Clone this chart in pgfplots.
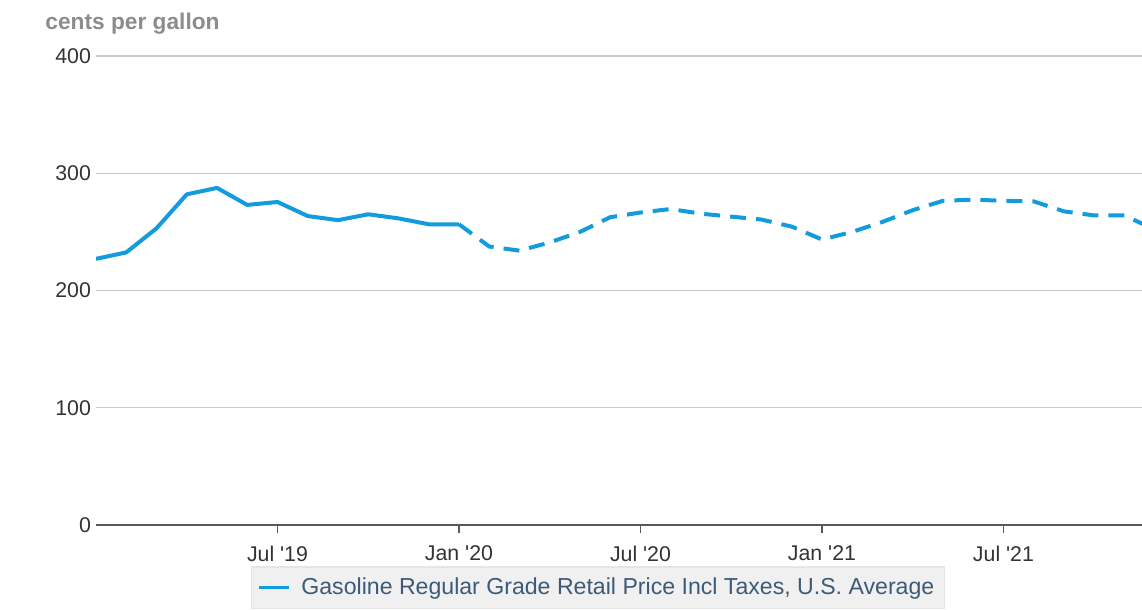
\documentclass[border=0pt]{standalone}
\usepackage{fontspec}
\setmainfont{Liberation Sans}
\usepackage{pgfplots}
\pgfplotsset{compat=1.18}

\definecolor{eiablue}{HTML}{129CDD}
\definecolor{gridgrey}{HTML}{C8C8C8}
\definecolor{ticktext}{HTML}{333333}
\definecolor{unitgrey}{HTML}{8C8C8C}
\definecolor{legtext}{HTML}{3D5A78}

% months counted from Jan 2019 = 0
\pgfplotstableread{
m v
0 227
1 232.5
2 253
3 282
4 287.5
5 273
6 275.5
7 263.5
8 260
9 265
10 261.5
11 256.5
12 256.5
}\history

\pgfplotstableread{
m v
12 256.5
13 237.5
14 234
15 241
16 250
17 262.5
18 266.5
19 269.5
20 265.5
21 263
22 260.5
23 254.5
24 243.5
25 250
26 258.5
27 268.5
28 276.5
29 277.5
30 276.5
31 276
32 267.5
33 264
34 264
35 252
}\forecast

\begin{document}
\begin{tikzpicture}
\begin{axis}[
  width=523bp, height=234.5bp, scale only axis,
  xmin=0, xmax=34.58, ymin=0, ymax=400,
  clip mode=individual,
  axis x line*=bottom, axis y line*=left,
  y axis line style={draw=none},
  x axis line style={draw=black!65, line width=1bp},
  ytick={0,100,200,300,400},
  ytick style={draw=none},
  xtick={6,12,18,24,30},
  xticklabels={Jul \textquotesingle19, Jan \textquotesingle20, Jul \textquotesingle20, Jan \textquotesingle21, Jul \textquotesingle21},
  xtick align=outside,
  major tick length=4bp,
  xtick style={draw=black!65, line width=0.7bp},
  ymajorgrids,
  grid style={gridgrey, line width=0.6bp},
  /pgf/number format/assume math mode=true,
  tick label style={font=\fontsize{10.7}{12}\selectfont, text=ticktext},
  yticklabel style={xshift=1bp},
  xticklabel style={yshift=-3bp},
  legend style={at={(0.48,-0.134)}, anchor=center,
    fill=black!6, draw=black!10, line width=0.6bp,
    font=\fontsize{11.6}{13}\selectfont, text=legtext,
    inner xsep=3bp, inner ysep=3.5bp},
  legend image code/.code={\draw[#1, line width=1.6bp] (0bp,0bp) -- (15bp,0bp); \path (18bp,0bp);},
]
\addplot[eiablue, line width=2bp, line join=round] table[x=m, y=v] {\history};
\addlegendentry{Gasoline Regular Grade Retail Price Incl Taxes, U.S. Average}
\addplot[eiablue, line width=2bp, dash pattern=on 8bp off 5bp, forget plot] table[x=m, y=v] {\forecast};
\node[anchor=west, inner sep=0pt, xshift=-25.5bp, yshift=16bp, font=\fontsize{11.4}{13}\selectfont\bfseries, text=unitgrey]
  at (rel axis cs:0,1) {cents per gallon};
\end{axis}
\pgfresetboundingbox
\path[use as bounding box] (-48bp,-42.5bp) rectangle (523bp,262.5bp);
\end{tikzpicture}
\end{document}
